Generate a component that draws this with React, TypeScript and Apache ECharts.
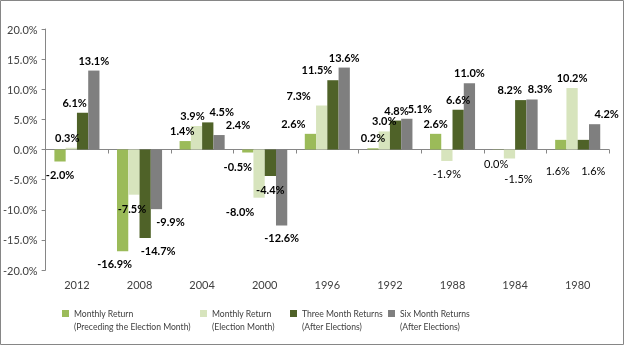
import React, { useEffect, useRef } from "react";
import * as echarts from "echarts";

const categories = ["2012", "2008", "2004", "2000", "1996", "1992", "1988", "1984", "1980"];
const seriesNames = [
  "Monthly Return\n(Preceding the Election Month)",
  "Monthly Return\n(Election Month)",
  "Three Month Returns\n(After Elections)",
  "Six Month Returns\n(After Elections)",
];
const precedingMonth = [-2.0, -16.9, 1.4, -0.5, 2.6, 0.2, 2.6, -0.04, 1.6];
const electionMonth = [0.3, -7.5, 3.9, -8.0, 7.3, 3.0, -1.9, -1.5, 10.2];
const threeMonth = [6.1, -14.7, 4.5, -4.4, 11.5, 4.8, 6.6, 8.2, 1.6];
const sixMonth = [13.1, -9.9, 2.4, -12.6, 13.6, 5.1, 11.0, 8.3, 4.2];
const yTicks = { min: -20, max: 20, interval: 5 };

// label placement (kept apart from the data): [position, dx, dy, bold]
type LP = [string, number, number, boolean];
const labelPlacement: LP[][] = [
  [["bottom", 0, 2, true], ["bottom", -8, 2, true], ["top", -3, 0, true], ["bottom", -10, 3, true], ["top", -17, 0, true], ["top", 0, 0, true], ["top", 0, 0, true], ["bottom", -2, 3, false], ["bottom", -3, 10, false]],
  [["top", -4, 0, true], ["bottom", -2, 3, true], ["top", -4, 0, true], ["bottom", -19, 3, true], ["top", -23, 0, true], ["top", 0, 0, true], ["bottom", 0, 2, false], ["bottom", 9, 9, false], ["top", 0, 0, true]],
  [["top", -8, 0, true], ["bottom", 13, 2, true], ["top", 14, 0, true], ["bottom", 0, 3, true], ["top", -16, 0, true], ["top", 1, 0, true], ["top", 0, 0, true], ["top", -11, 0, true], ["bottom", 10, 10, false]],
  [["top", 0, 0, true], ["bottom", 14, 2, true], ["top", 19, 0, true], ["bottom", 0, 2, true], ["top", 0, 0, true], ["top", 13, 0, true], ["top", 0, 0, true], ["top", 8, 0, true], ["top", 12, 0, true]],
];
const colors = ["#9BBB59", "#D7E4BD", "#4F6228", "#7F7F7F"];
const legendLefts = [62, 200, 290, 388];

const FONT = "Lato";

function fmt(v: number) {
  let r = Math.round(v * 10) / 10;
  if (r === 0) r = 0;
  return r.toFixed(1) + "%";
}

export default function App() {
  const ref = useRef<HTMLDivElement>(null);
  useEffect(() => {
    document.body.style.margin = "0";
    const chart = echarts.init(ref.current!, null, { renderer: "svg" });
    const all = [precedingMonth, electionMonth, threeMonth, sixMonth];
    const series = all.map((vals, si) => ({
      name: seriesNames[si],
      type: "bar",
      xAxisIndex: 0,
      barGap: "0%",
      barCategoryGap: "28%",
      itemStyle: { color: colors[si] },
      data: vals.map((v, ci) => {
        const p = labelPlacement[si][ci];
        return {
          value: v,
          label: {
            position: p[0],
            offset: [p[1], p[2]],
            fontWeight: p[3] ? "bold" : "normal",
          },
        };
      }),
      label: {
        show: true,
        distance: 5,
        fontFamily: FONT,
        fontSize: 11,
        color: "#000",
        formatter: (pr: any) => fmt(pr.value),
      },
    }));
    chart.setOption({
      animation: false,
      color: colors,
      grid: { left: 45, right: 15, top: 29, bottom: 75 },
      legend: seriesNames.map((n, i) => ({
        data: [n],
        left: legendLefts[i],
        top: 294,
        itemWidth: 7,
        itemHeight: 7,
        icon: "rect",
        padding: 0,
        formatter: (name: string) => "\n" + name,
        textStyle: {
          fontFamily: FONT,
          fontSize: 8.6,
          color: "#404040",
          lineHeight: 13,
        },
      })),
      xAxis: [
        {
          type: "category",
          data: categories,
          axisLine: { onZero: true, lineStyle: { color: "#868686" } },
          axisTick: { show: true, length: 4, lineStyle: { color: "#868686" } },
          axisLabel: { show: false },
        },
        {
          type: "category",
          data: categories,
          position: "bottom",
          axisLine: { show: false, onZero: false },
          axisTick: { show: false },
          axisLabel: { fontFamily: FONT, fontSize: 11, color: "#404040", margin: 9 },
        },
      ],
      yAxis: {
        type: "value",
        min: yTicks.min,
        max: yTicks.max,
        interval: yTicks.interval,
        splitLine: { show: false },
        axisLine: { show: true, lineStyle: { color: "#868686" } },
        axisTick: { show: true, length: 4, lineStyle: { color: "#868686" } },
        axisLabel: {
          fontFamily: FONT,
          fontSize: 11,
          color: "#404040",
          margin: 8,
          formatter: (v: number) => v.toFixed(1) + "%",
        },
      },
      series,
      graphic: [
        {
          type: "rect",
          shape: { x: 0.5, y: 0.5, width: 623, height: 344 },
          style: { fill: "none", stroke: "#868686", lineWidth: 1 },
          silent: true,
        },
      ],
    });
    return () => chart.dispose();
  }, []);
  return <div ref={ref} style={{ position: "fixed", left: 0, top: 0, width: 624, height: 345 }} />;
}
